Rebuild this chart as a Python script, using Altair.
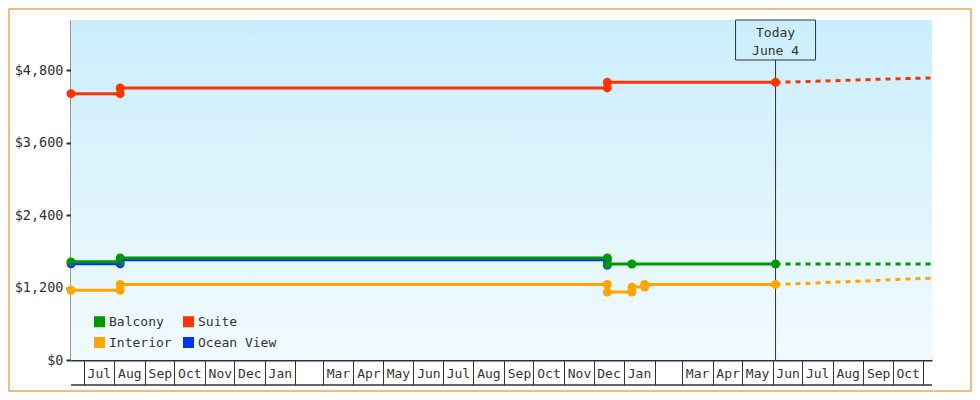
import altair as alt
import pandas as pd

# ---- data -------------------------------------------------------------
# legend is laid out column by column: (Balcony, Interior) | (Suite, Ocean View)
series_names = ["Balcony", "Interior", "Suite", "Ocean View"]
series_colors = ["#009900", "#ffa500", "#ff3300", "#0033ff"]

ocean_dates = ["2021-06-18", "2021-08-07", "2021-08-07", "2022-12-15", "2022-12-15"]
ocean_values = [1592, 1592, 1658, 1658, 1570]

balcony_dates = ["2021-06-18", "2021-08-07", "2021-08-07", "2022-12-15", "2022-12-15",
                 "2023-01-09", "2023-06-04"]
balcony_values = [1625, 1625, 1691, 1691, 1590, 1590, 1590]

interior_dates = ["2021-06-18", "2021-08-07", "2021-08-07", "2022-12-15", "2022-12-15",
                  "2023-01-09", "2023-01-09", "2023-01-22", "2023-01-22", "2023-06-04"]
interior_values = [1155, 1155, 1252, 1252, 1125, 1125, 1208, 1208, 1252, 1252]

suite_dates = ["2021-06-18", "2021-08-07", "2021-08-07", "2022-12-15", "2022-12-15", "2023-06-04"]
suite_values = [4410, 4410, 4505, 4505, 4598, 4598]

# forecast (dashed) part, starting at today
balcony_fc_dates = ["2023-06-04", "2023-11-10"]
balcony_fc_values = [1590, 1590]

interior_fc_dates = ["2023-06-04", "2023-07-05", "2023-08-05", "2023-09-05", "2023-10-05", "2023-11-10"]
interior_fc_values = [1252, 1268, 1290, 1310, 1335, 1355]

suite_fc_dates = ["2023-06-04", "2023-07-12", "2023-08-12", "2023-09-12", "2023-10-12", "2023-11-10"]
suite_fc_values = [4598, 4614, 4630, 4647, 4660, 4672]

today_date = ["2023-06-04"]
today_label = ["Today\nJune 4"]

y_tick_values = [0, 1200, 2400, 3600, 4800]


def build(groups):
    rows = []
    i = 0
    for name, dates, vals in groups:
        for d, v in zip(dates, vals):
            rows.append({"series": name, "date": d + "T00:00:00", "price": v, "idx": i})
            i += 1
    return pd.DataFrame(rows)


hist = build([
    ("Ocean View", ocean_dates, ocean_values),
    ("Balcony", balcony_dates, balcony_values),
    ("Interior", interior_dates, interior_values),
    ("Suite", suite_dates, suite_values),
])
fc = build([
    ("Balcony", balcony_fc_dates, balcony_fc_values),
    ("Interior", interior_fc_dates, interior_fc_values),
    ("Suite", suite_fc_dates, suite_fc_values),
])
today = pd.DataFrame({"date": [d + "T00:00:00" for d in today_date], "label": today_label})
one = pd.DataFrame({"a": [0]})

# ---- chart ------------------------------------------------------------
W, H = 861, 340
FONT = "DejaVu Sans Mono"
INK = "#333333"

x_scale = alt.Scale(domain=[alt.DateTime(year=2021, month=6, date=18),
                            alt.DateTime(year=2023, month=11, date=10)])
y_scale = alt.Scale(domain=[0, 5630], nice=False)

x_axis = alt.Axis(
    title=None, grid=False,
    tickCount={"interval": "month", "step": 1},
    tickSize=25, tickColor=INK, tickWidth=1,
    domainColor=INK, domainWidth=2,
    labelExpr="month(datum.value) == 1 || datum.value > datetime(2023, 9, 15) ? '' : timeFormat(datum.value, '%b')",
    labelOffset=15, labelPadding=-12, labelBaseline="middle", labelAlign="center",
    labelFont=FONT, labelFontSize=13, labelColor=INK,
    labelOverlap=False, labelFlush=False, labelBound=False,
)
y_axis = alt.Axis(
    title=None, grid=False, values=y_tick_values, format="$,.0f",
    tickSize=5, tickWidth=2, tickColor=INK,
    domainColor=INK, domainWidth=2,
    labelPadding=3, labelFont=FONT, labelFontSize=13.5, labelColor=INK,
)

X = alt.X("date:T", scale=x_scale, axis=x_axis)
Y = alt.Y("price:Q", scale=y_scale, axis=y_axis)

color_scale = alt.Scale(domain=series_names, range=series_colors)
legend = alt.Legend(
    title=None, orient="none", legendX=22, legendY=295, columns=2,
    symbolType="square", symbolSize=121, symbolOpacity=1, symbolStrokeWidth=0,
    symbolFillColor="#888888",
    labelFont=FONT, labelFontSize=13, labelColor=INK, labelOffset=3,
    padding=0, columnPadding=10, rowPadding=7,
)
COLOR = alt.Color("series:N", scale=color_scale, legend=legend)

border = alt.Chart(one).mark_rect(fillOpacity=0, stroke="#e8a862", strokeWidth=1.5).encode(
    x=alt.value(-62), x2=alt.value(W + 39), y=alt.value(-11), y2=alt.value(H + 31)
)

bg = alt.Chart(one).mark_rect(
    fill=alt.LinearGradient(
        gradient="linear",
        stops=[alt.GradientStop(offset=0, color="#cbeefc"),
               alt.GradientStop(offset=1, color="#f2fafe")],
        x1=0, x2=0, y1=0, y2=1,
    )
).encode(x=alt.value(0), x2=alt.value(W), y=alt.value(0), y2=alt.value(H))

bottom_line = alt.Chart(one).mark_rule(color=INK, strokeWidth=1.5).encode(
    x=alt.value(0), x2=alt.value(W), y=alt.value(H + 25)
)

today_rule = alt.Chart(today).mark_rule(color=INK, strokeWidth=1).encode(
    x=X, y=alt.value(40), y2=alt.value(H)
)
today_box = alt.Chart(today).mark_point(
    shape="M-1,-0.5H1V0.5H-1Z", size=6400, filled=False, stroke=INK, strokeWidth=1, opacity=1
).encode(x=X, y=alt.value(20))
today_text = alt.Chart(today).mark_text(
    font=FONT, fontSize=13, color=INK, lineBreak="\n", lineHeight=18, baseline="middle", align="center"
).encode(x=X, y=alt.value(13), text="label:N")

points = alt.Chart(hist).mark_point(filled=True, shape="circle", size=80, opacity=1).encode(
    x=X, y=Y, color=COLOR,
)
lines_hist = alt.Chart(hist).mark_line(strokeWidth=3).encode(
    x=X, y=Y, color=COLOR, detail="series:N", order=alt.Order("idx:Q"),
)
lines_fc = alt.Chart(fc).mark_line(strokeWidth=3, strokeDash=[5, 5]).encode(
    x=X, y=Y, color=COLOR, detail="series:N", order=alt.Order("idx:Q"),
)

chart = alt.layer(
    border, bg, bottom_line, today_rule, today_box, today_text, points, lines_hist, lines_fc
).properties(
    width=W, height=H,
    padding={"left": 63, "top": 12, "right": 40, "bottom": 32},
    autosize=alt.AutoSizeParams(type="none"),
).configure(font=FONT).configure_view(strokeWidth=0)

chart.save("out.html", embed_options={"renderer": "svg", "actions": False})
